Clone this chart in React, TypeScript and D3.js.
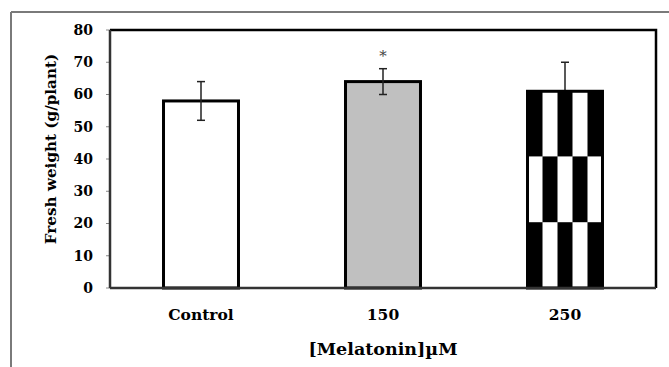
import * as d3 from "d3"

const categories = ["Control", "150", "250"]
const values = [58, 64, 61]
const errors = [6, 4, 9]
const marks = ["", "*", ""]
const fills = ["#fff", "#c0c0c0", "url(#checker)"]
const yTicks = [0, 10, 20, 30, 40, 50, 60, 70, 80]

const W = 669
const H = 367
const margin = { top: 30, right: 13, bottom: 79, left: 110 }
const serif = { fontFamily: '"DejaVu Serif", "Liberation Serif", "Times New Roman", Times, serif' }

export default function App() {
  const innerW = W - margin.left - margin.right
  const innerH = H - margin.top - margin.bottom

  const x = d3.scaleBand().domain(categories).range([0, innerW]).paddingInner(0.588).paddingOuter(0.294)
  const y = d3.scaleLinear().domain([0, 80]).range([innerH, 0])

  // checker cell for the 250 bar: 5 columns, rows ~20.4 units tall
  const bw = x.bandwidth()
  const cellW = bw / 5
  const cellH = y(0) - y(20.4)
  const px = x("250") || 0

  const errorBar = (c: string, i: number) => {
    const cx = (x(c) || 0) + bw / 2
    const top = y(values[i] + errors[i])
    const bot = y(values[i] - errors[i])
    return (
      <g key={"e" + c} stroke="#222" strokeWidth={1.5}>
        <line x1={cx} x2={cx} y1={top} y2={bot} />
        <line x1={cx - 4} x2={cx + 4} y1={top} y2={top} />
        <line x1={cx - 4} x2={cx + 4} y1={bot} y2={bot} />
      </g>
    )
  }

  return (
    <svg width={W} height={H} style={{ position: "absolute", left: 0, top: 0, background: "#fff" }}>
      <defs>
        <pattern id="checker" patternUnits="userSpaceOnUse" width={cellW * 2} height={cellH * 2} x={px} y={innerH - cellH}>
          <rect width={cellW * 2} height={cellH * 2} fill="#fff" />
          <rect x={0} y={0} width={cellW} height={cellH} fill="#000" />
          <rect x={cellW} y={cellH} width={cellW} height={cellH} fill="#000" />
        </pattern>
      </defs>

      {/* outer frame */}
      <line x1={11} x2={W} y1={12} y2={12} stroke="#7a7a7a" strokeWidth={2} />
      <line x1={11} x2={11} y1={12} y2={H} stroke="#7a7a7a" strokeWidth={2} />

      <g transform={`translate(${margin.left},${margin.top})`}>
        {/* plot border top/right */}
        <path d={`M0,0H${innerW}V${innerH}`} fill="none" stroke="#000" strokeWidth={2.5} />

        {/* y ticks */}
        {yTicks.map((t) => (
          <g key={t} transform={`translate(0,${y(t)})`}>
            <line x1={-4} x2={0} stroke="#888" strokeWidth={1} />
            <text x={-17} dy="0.35em" textAnchor="end" style={serif} fontWeight="bold" fontSize={14}>
              {t}
            </text>
          </g>
        ))}

        {/* patterned bar hides its own lower whisker */}
        {categories.map((c, i) => (fills[i].startsWith("url") ? errorBar(c, i) : null))}

        {/* bars */}
        {categories.map((c, i) => (
          <rect
            key={c}
            x={x(c) || 0}
            y={y(values[i])}
            width={bw}
            height={innerH - y(values[i])}
            fill={fills[i]}
            stroke="#000"
            strokeWidth={3}
          />
        ))}

        {categories.map((c, i) => (fills[i].startsWith("url") ? null : errorBar(c, i)))}

        {/* significance marks */}
        {categories.map((c, i) =>
          marks[i] ? (
            <text
              key={c}
              x={(x(c) || 0) + bw / 2}
              y={y(values[i] + errors[i]) - 8}
              textAnchor="middle"
              style={serif}
              fontSize={15}
              fill="#444"
            >
              {marks[i]}
            </text>
          ) : null
        )}

        {/* axes lines */}
        <line x1={0} x2={0} y1={0} y2={innerH} stroke="#333" strokeWidth={2.5} />
        <line x1={0} x2={innerW} y1={innerH} y2={innerH} stroke="#333" strokeWidth={2.5} />

        {/* category labels */}
        {categories.map((c) => (
          <text
            key={c}
            x={(x(c) || 0) + bw / 2}
            y={innerH + 32}
            textAnchor="middle"
            style={serif}
            fontWeight="bold"
            fontSize={15.5}
          >
            {c}
          </text>
        ))}

        <text x={innerW / 2} y={innerH + 67} textAnchor="middle" style={serif} fontWeight="bold" fontSize={17.5}>
          [Melatonin]µM
        </text>

        <text
          transform={`translate(-54,${innerH / 2 - 10}) rotate(-90)`}
          textAnchor="middle"
          style={serif}
          fontWeight="bold"
          fontSize={15.2}
        >
          Fresh weight (g/plant)
        </text>
      </g>
    </svg>
  )
}
